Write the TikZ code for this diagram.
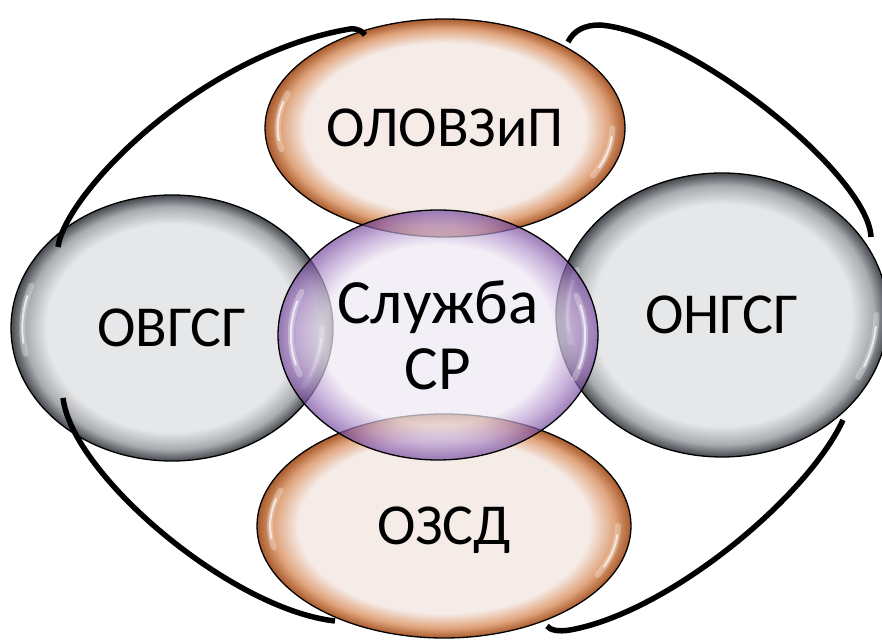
\documentclass[tikz,border=0pt]{standalone}
\usepackage{fontspec}
\setmainfont{Carlito}
\usetikzlibrary{shapes.geometric,calc}
\definecolor{gcen}{HTML}{E6E7E8}
\definecolor{gmid}{HTML}{A9ACB0}
\definecolor{gedge}{HTML}{45484D}
\definecolor{ocen}{HTML}{F5EBE7}
\definecolor{omid}{HTML}{E0A47C}
\definecolor{oedge}{HTML}{A85A2C}
\definecolor{pcen}{HTML}{EEE8F4}
\definecolor{pmid}{HTML}{B393CC}
\definecolor{pedge}{HTML}{74489C}
\pgfdeclareradialshading{glossgray}{\pgfpoint{0bp}{0bp}}{color(0bp)=(gcen); color(19.5bp)=(gcen); color(22.8bp)=(gmid); color(25bp)=(gedge); color(50bp)=(gedge)}
\pgfdeclareradialshading{glossorange}{\pgfpoint{0bp}{0bp}}{color(0bp)=(ocen); color(19.5bp)=(ocen); color(22.8bp)=(omid); color(25bp)=(oedge); color(50bp)=(oedge)}
\pgfdeclareradialshading{glosspurple}{\pgfpoint{0bp}{0bp}}{color(0bp)=(pcen); color(18bp)=(pcen); color(22bp)=(pmid); color(25bp)=(pedge); color(50bp)=(pedge)}
\tikzset{
  blob/.style={ellipse, draw=black, line width=1.3pt, inner sep=0pt, text=black,
    font=\fontsize{58}{65}\selectfont, text depth=0pt},
  grayblob/.style={blob, shade, shading=glossgray},
  orangeblob/.style={blob, shade, shading=glossorange},
  purpleblob/.style={blob, shade, shading=glosspurple, fill opacity=0.7, draw opacity=1, text opacity=1,
    font=\fontsize{63}{66}\selectfont},
  link/.style={line width=5.5pt, draw=black},
  shinewide/.style={white, line width=6pt, line cap=round, opacity=0.3},
  shinethin/.style={white, line width=2pt, line cap=round, opacity=0.7}
}
\begin{document}
\begin{tikzpicture}[x=1pt,y=1pt]
\useasboundingbox (0,0) rectangle (882,644);
\node[grayblob, minimum width=322pt, minimum height=266pt] (ovgsg) at (172,316) {ОВГСГ};
\node[grayblob, minimum width=332pt, minimum height=284pt] (ongsg) at (722,329) {ОНГСГ};
\node[orangeblob, minimum width=360pt, minimum height=218pt] (olovzip) at (445,516) {ОЛОВЗиП};
\node[orangeblob, minimum width=374pt, minimum height=224pt] (ozsd) at (444,118) {ОЗСД};
% highlights
\foreach \n/\rx/\ry in {ovgsg/161/133, ongsg/166/142, olovzip/180/109, ozsd/187/112}{
  \foreach \a/\b in {160/192, -28/0}{
    \draw[shinewide] (\n.center) ++(\a:0.93*\rx pt and 0.93*\ry pt) arc[start angle=\a, end angle=\b, x radius=0.93*\rx pt, y radius=0.93*\ry pt];
    \draw[shinethin] (\n.center) ++(\a+5:0.93*\rx pt and 0.93*\ry pt) arc[start angle=\a+5, end angle=\b-5, x radius=0.93*\rx pt, y radius=0.93*\ry pt];
  }
}
\node[purpleblob, minimum width=320pt, minimum height=250pt, align=center] (sluzhba) at (438,309) {Служба\\СР};
\foreach \n/\rx/\ry in {sluzhba/160/125}{
  \foreach \a/\b in {158/200, -22/20}{
    \draw[shinewide] (\n.center) ++(\a:0.92*\rx pt and 0.92*\ry pt) arc[start angle=\a, end angle=\b, x radius=0.92*\rx pt, y radius=0.92*\ry pt];
    \draw[shinethin] (\n.center) ++(\a+5:0.92*\rx pt and 0.92*\ry pt) arc[start angle=\a+5, end angle=\b-5, x radius=0.92*\rx pt, y radius=0.92*\ry pt];
  }
}
% connectors
\draw[link] ($(ovgsg.center)+(-114,81)$) .. controls (65,450) and (200,590) .. (350,615)
  .. controls (358,616) and (363,612) .. ($(olovzip.center)+(-80,93)$);
\draw[link] ($(olovzip.center)+(123,86)$) .. controls (574,614) and (585,619) .. (600,619)
  .. controls (690,612) and (868,470) .. ($(ongsg.center)+(149,78)$);
\draw[link] ($(ovgsg.center)+(-109,-70)$) .. controls (72,170) and (230,35) .. ($(ozsd.center)+(-109,-95)$);
\draw[link] ($(ongsg.center)+(121,-105)$) .. controls (808,148) and (670,32) .. (570,14)
  .. controls (558,12) and (550,14) .. ($(ozsd.center)+(103,-100)$);
\end{tikzpicture}
\end{document}
